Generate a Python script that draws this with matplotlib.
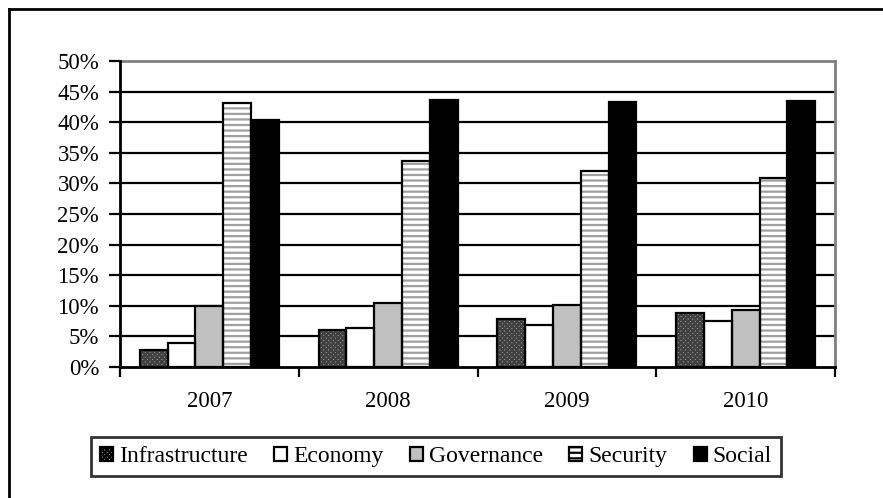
import matplotlib
matplotlib.use("Agg")
import matplotlib.pyplot as plt
import numpy as np
from matplotlib.lines import Line2D
from matplotlib.patches import Patch

plt.rcParams['font.family'] = ['Liberation Serif', 'DejaVu Serif']
plt.rcParams['hatch.linewidth'] = 1.6

years = ['2007', '2008', '2009', '2010']
series = ['Infrastructure', 'Economy', 'Governance', 'Security', 'Social']
infrastructure = [2.8, 6.0, 7.9, 8.9]
economy = [3.9, 6.4, 6.8, 7.5]
governance = [10.0, 10.4, 10.1, 9.3]
security = [43.1, 33.6, 32.0, 30.9]
social = [40.3, 43.6, 43.3, 43.5]
yticks = [0, 5, 10, 15, 20, 25, 30, 35, 40, 45, 50]

values = [infrastructure, economy, governance, security, social]
styles = [
    dict(face='#a8a8a8', hatch='xxxxxxx', hcol='#404040'),
    dict(face='white', hatch=None, hcol=None),
    dict(face='#c0c0c0', hatch=None, hcol=None),
    dict(face='white', hatch='---', hcol='#a0a0a0'),
    dict(face='black', hatch=None, hcol=None),
]

W, H = 883, 498
fig = plt.figure(figsize=(W / 100, H / 100), dpi=100)
ax = fig.add_axes([120 / W, 1 - 367 / H, (835 - 120) / W, (367 - 61) / H])

bw = 0.1556
x = np.arange(len(years)) + 0.5
for i, (vals, st) in enumerate(zip(values, styles)):
    pos = x + (i - 2) * bw
    ax.bar(pos, vals, width=bw, color=st['face'], edgecolor=st['hcol'] if st['hatch'] else st['face'],
           hatch=st['hatch'], linewidth=0, zorder=3)
    ax.bar(pos, vals, width=bw, fill=False, edgecolor='black', linewidth=1.6, zorder=4)

ax.set_xlim(0, 4)
ax.set_ylim(0, 50)
ax.set_yticks(yticks)
ax.set_yticklabels([f'{v}%' for v in yticks], fontsize=16.5)
for v in yticks[1:-1]:
    ax.axhline(v, color='black', linewidth=1.6, zorder=1)

ax.set_xticks([0, 1, 2, 3, 4])
ax.set_xticklabels([])
ax.set_xticks(x, minor=True)
ax.set_xticklabels(years, minor=True, fontsize=16.5)
ax.tick_params(axis='x', which='minor', length=0, pad=17)
ax.tick_params(axis='x', which='major', direction='out', length=7, width=1.6, color='black')
ax.tick_params(axis='y', direction='out', length=8, width=1.6, pad=7)

for s in ['top', 'right']:
    ax.spines[s].set_color('#808080')
    ax.spines[s].set_linewidth(2)
for s in ['left', 'bottom']:
    ax.spines[s].set_color('black')
    ax.spines[s].set_linewidth(2)
    ax.spines[s].set_zorder(5)

# legend handles
handles = []
for st, name in zip(styles, series):
    if st['hatch']:
        handles.append(Patch(facecolor=st['face'], edgecolor='black', hatch=st['hatch'], linewidth=1.6, label=name))
    else:
        handles.append(Patch(facecolor=st['face'], edgecolor='black', linewidth=1.6, label=name))
leg = fig.legend(handles=handles, loc='center', bbox_to_anchor=(436 / W, 1 - 456.5 / H), ncol=5,
                 fontsize=17, frameon=True, fancybox=False, shadow=False, handlelength=0.55,
                 handleheight=0.55, handletextpad=0.25, columnspacing=1.12, borderpad=0.4,
                 borderaxespad=0, edgecolor='black')
leg.get_frame().set_linewidth(2)

# outer border (top and left visible)
fig.add_artist(Line2D([8.5 / W, 8.5 / W], [0, 1 - 9 / H], color='black', linewidth=2, transform=fig.transFigure))
fig.add_artist(Line2D([8.5 / W, 1], [1 - 9 / H, 1 - 9 / H], color='black', linewidth=2, transform=fig.transFigure))

fig.savefig('out.png', dpi=100)
